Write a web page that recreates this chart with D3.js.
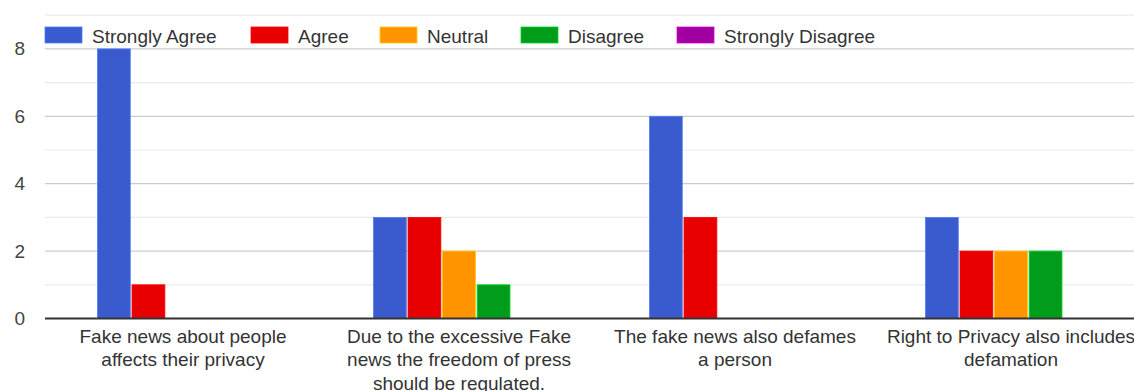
<!DOCTYPE html>
<html>
<head>
<meta charset="utf-8">
<script src="https://cdn.jsdelivr.net/npm/d3@7"></script>
<style>
  html, body { margin: 0; padding: 0; background: #fff; }
  svg { display: block; font-family: "Liberation Sans", Arial, sans-serif; }
</style>
</head>
<body>
<svg id="chart" width="1134" height="391"></svg>
<script>
// Survey questions (x categories); "\n" marks the line breaks of each label
const categories = [
  "Fake news about people\naffects their privacy",
  "Due to the excessive Fake\nnews the freedom of press\nshould be regulated.",
  "The fake news also defames\na person",
  "Right to Privacy also includes\ndefamation"
];

// Response options (series)
const seriesNames = ["Strongly Agree", "Agree", "Neutral", "Disagree", "Strongly Disagree"];
const seriesColors = ["#3a5bcd", "#e80000", "#ff9400", "#009c1a", "#a000a0"];

// Number of responses per question, one array per option
const stronglyAgree    = [8, 3, 6, 3];
const agree            = [1, 3, 3, 2];
const neutral          = [0, 2, 0, 2];
const disagree         = [0, 1, 0, 2];
const stronglyDisagree = [0, 0, 0, 0];

const seriesValues = [stronglyAgree, agree, neutral, disagree, stronglyDisagree];

// Y-axis labelled ticks
const yTickValues = [0, 2, 4, 6, 8];

const svg = d3.select("#chart");

const plotLeft = 45, plotRight = 1149;
const x0 = d3.scaleBand()
  .domain(categories)
  .range([plotLeft, plotRight])
  .paddingInner(0.38)
  .paddingOuter(0.19);

const x1 = d3.scaleBand()
  .domain(seriesNames)
  .range([0, x0.bandwidth()])
  .paddingInner(0.05);

const y = d3.scaleLinear()
  .domain([0, 10])
  .range([318.5, -18.5]);

// Gridlines: darker at labelled values, lighter in between
const grid = svg.append("g");
d3.range(1, 11).forEach(v => {
  grid.append("line")
    .attr("x1", plotLeft).attr("x2", plotRight)
    .attr("y1", y(v)).attr("y2", y(v))
    .attr("stroke", v % 2 === 0 ? "#cccccc" : "#ebebeb")
    .attr("stroke-width", 1.2);
});

// Y-axis labels
const yAxis = d3.axisLeft(y).tickValues(yTickValues).tickSize(0).tickPadding(0);
svg.append("g")
  .attr("transform", `translate(${plotLeft - 20},0)`)
  .call(yAxis)
  .call(g => g.select(".domain").remove())
  .call(g => g.selectAll("text")
    .attr("fill", "#444")
    .attr("font-size", 19)
    .attr("font-family", "Liberation Sans, Arial, sans-serif"));

// Bars
const rows = categories.map((c, i) => ({
  category: c,
  values: seriesNames.map((s, j) => ({ series: s, value: seriesValues[j][i], color: seriesColors[j] }))
}));

const groups = svg.append("g").selectAll("g")
  .data(rows)
  .join("g")
  .attr("transform", d => `translate(${x0(d.category)},0)`);

groups.selectAll("rect")
  .data(d => d.values.filter(v => v.value > 0))
  .join("rect")
  .attr("x", d => x1(d.series))
  .attr("y", d => y(d.value))
  .attr("width", x1.bandwidth())
  .attr("height", d => y(0) - y(d.value))
  .attr("fill", d => d.color)
  .attr("stroke", d => d3.color(d.color).brighter(0.9))
  .attr("stroke-width", 0.8);

// Baseline
svg.append("line")
  .attr("x1", plotLeft).attr("x2", plotRight)
  .attr("y1", y(0)).attr("y2", y(0))
  .attr("stroke", "#333")
  .attr("stroke-width", 2);

// Category labels, one tspan per line
const xAxis = d3.axisBottom(x0).tickSize(0).tickPadding(0).tickFormat("");
const xg = svg.append("g").attr("transform", `translate(0,${y(0)})`).call(xAxis);
xg.select(".domain").remove();
xg.selectAll(".tick").each(function(d) {
  const t = d3.select(this).append("text")
    .attr("fill", "#333")
    .attr("font-size", 19)
    .attr("font-family", "Liberation Sans, Arial, sans-serif")
    .attr("text-anchor", "middle");
  d.split("\n").forEach((line, i) => {
    t.append("tspan").attr("x", 0).attr("y", 24.5 + i * 23.3).text(line);
  });
});

// Legend along the top of the plot
const legendX = [45, 251, 380, 521, 677];
const legend = svg.append("g").selectAll("g")
  .data(seriesNames)
  .join("g")
  .attr("transform", (d, i) => `translate(${legendX[i]},27)`);

legend.append("rect")
  .attr("width", 37).attr("height", 16)
  .attr("fill", (d, i) => seriesColors[i])
  .attr("stroke", (d, i) => d3.color(seriesColors[i]).brighter(0.9))
  .attr("stroke-width", 0.8);

legend.append("text")
  .attr("x", 47).attr("y", 16)
  .attr("fill", "#333")
  .attr("font-size", 19)
  .text(d => d);
</script>
</body>
</html>
